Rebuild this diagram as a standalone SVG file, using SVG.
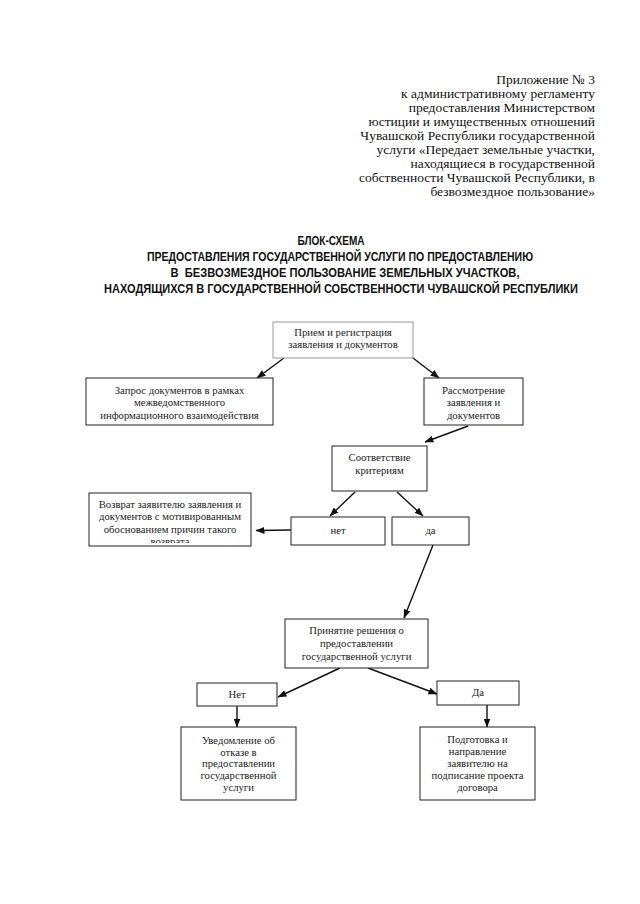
<svg xmlns="http://www.w3.org/2000/svg" width="640" height="904" viewBox="0 0 640 904">
<style>
.hdr{font-family:"Liberation Serif","Times New Roman",serif;font-size:13.5px;fill:#111;text-anchor:end}
.ttl{font-family:"Liberation Sans",Arial,sans-serif;font-size:12px;font-weight:bold;fill:#111;text-anchor:middle}
.box{fill:#fff;stroke:#222;stroke-width:1}
.box1{fill:#fff;stroke:#999;stroke-width:1}
.t{font-family:"Liberation Serif","Times New Roman",serif;font-size:10.7px;fill:#222;text-anchor:middle}
.c{stroke:#111;stroke-width:1.4;fill:none;marker-end:url(#ah)}
</style>
<defs>
<marker id="ah" markerUnits="userSpaceOnUse" markerWidth="9" markerHeight="7" refX="8.5" refY="3.5" orient="auto">
<path d="M0,0 L9,3.5 L0,7 z" fill="#111"/>
</marker>
<clipPath id="clipV"><rect x="89" y="493" width="162" height="50"/></clipPath>
</defs>
<rect width="640" height="904" fill="#fff"/>
<g id="header">
<text class="hdr" x="595" y="84">Приложение № 3</text>
<text class="hdr" x="595" y="98">к административному регламенту</text>
<text class="hdr" x="595" y="112">предоставления Министерством</text>
<text class="hdr" x="595" y="126">юстиции и имущественных отношений</text>
<text class="hdr" x="595" y="140">Чувашской Республики государственной</text>
<text class="hdr" x="595" y="154">услуги «Передает земельные участки,</text>
<text class="hdr" x="595" y="168">находящиеся в государственной</text>
<text class="hdr" x="595" y="182">собственности Чувашской Республики, в</text>
<text class="hdr" x="595" y="196">безвозмездное пользование»</text>
</g>
<g id="title">
<text class="ttl" x="331" y="244.5" textLength="67" lengthAdjust="spacingAndGlyphs">БЛОК-СХЕМА</text>
<text class="ttl" x="340" y="261" textLength="386" lengthAdjust="spacingAndGlyphs">ПРЕДОСТАВЛЕНИЯ ГОСУДАРСТВЕННОЙ УСЛУГИ ПО ПРЕДОСТАВЛЕНИЮ</text>
<text class="ttl" x="345" y="277" textLength="349" lengthAdjust="spacingAndGlyphs" xml:space="preserve">В  БЕЗВОЗМЕЗДНОЕ ПОЛЬЗОВАНИЕ ЗЕМЕЛЬНЫХ УЧАСТКОВ,</text>
<text class="ttl" x="341" y="292.5" textLength="474" lengthAdjust="spacingAndGlyphs">НАХОДЯЩИХСЯ В ГОСУДАРСТВЕННОЙ СОБСТВЕННОСТИ ЧУВАШСКОЙ РЕСПУБЛИКИ</text>
</g>
<g id="connectors">
<line class="c" x1="284" y1="358" x2="257" y2="378"/>
<line class="c" x1="413" y1="358" x2="439" y2="378"/>
<line class="c" x1="468" y1="426" x2="425" y2="442"/>
<line class="c" x1="355" y1="492" x2="330" y2="516"/>
<line class="c" x1="397" y1="492" x2="423" y2="516"/>
<line class="c" x1="291" y1="530" x2="256" y2="530.5"/>
<line class="c" x1="433" y1="545" x2="404" y2="618"/>
<line class="c" x1="340" y1="668" x2="278" y2="697"/>
<line class="c" x1="368" y1="668" x2="437" y2="694"/>
<line class="c" x1="237" y1="706" x2="237" y2="727"/>
<line class="c" x1="487" y1="705" x2="487" y2="727"/>
</g>
<g id="n1">
<rect class="box1" x="273" y="322" width="140" height="36"/>
<text class="t" x="343" y="335.5">Прием и регистрация</text>
<text class="t" x="343" y="348">заявления и документов</text>
</g>
<g id="n2">
<rect class="box" x="86" y="378" width="187" height="47"/>
<text class="t" x="179.5" y="393.5">Запрос документов в рамках</text>
<text class="t" x="179.5" y="406">межведомственного</text>
<text class="t" x="179.5" y="418.5">информационного взаимодействия</text>
</g>
<g id="n3">
<rect class="box" x="424" y="378" width="99" height="47"/>
<text class="t" x="473.5" y="393.5">Рассмотрение</text>
<text class="t" x="473.5" y="406">заявления и</text>
<text class="t" x="473.5" y="418.5">документов</text>
</g>
<g id="n4">
<rect class="box" x="332" y="446" width="95" height="45"/>
<text class="t" x="379.5" y="460.5">Соответствие</text>
<text class="t" x="379.5" y="474">критериям</text>
</g>
<g id="n5">
<rect class="box" x="89" y="493" width="162" height="53"/>
<g clip-path="url(#clipV)">
<text class="t" x="170" y="507.5">Возврат заявителю заявления и</text>
<text class="t" x="170" y="520">документов с мотивированным</text>
<text class="t" x="170" y="532.5">обоснованием причин такого</text>
<text class="t" x="170" y="545">возврата</text>
</g>
</g>
<g id="n6">
<rect class="box" x="291" y="517" width="94" height="28"/>
<text class="t" x="338" y="533.5">нет</text>
</g>
<g id="n7">
<rect class="box" x="392" y="517" width="77" height="28"/>
<text class="t" x="430.5" y="533.5">да</text>
</g>
<g id="n8">
<rect class="box" x="285" y="619" width="143" height="49"/>
<text class="t" x="356.5" y="633.5">Принятие решения о</text>
<text class="t" x="356.5" y="646.5">предоставлении</text>
<text class="t" x="356.5" y="660">государственной услуги</text>
</g>
<g id="n9">
<rect class="box" x="197" y="683" width="80" height="23"/>
<text class="t" x="237" y="697.5">Нет</text>
</g>
<g id="n10">
<rect class="box" x="437" y="681" width="82" height="24"/>
<text class="t" x="478" y="695.5">Да</text>
</g>
<g id="n11">
<rect class="box" x="181" y="727" width="115" height="73"/>
<text class="t" x="238.5" y="743.5">Уведомление об</text>
<text class="t" x="238.5" y="755.5">отказе в</text>
<text class="t" x="238.5" y="767">предоставлении</text>
<text class="t" x="238.5" y="778.5">государственной</text>
<text class="t" x="238.5" y="790.5">услуги</text>
</g>
<g id="n12">
<rect class="box" x="420" y="727" width="115" height="73"/>
<text class="t" x="477.5" y="743">Подготовка и</text>
<text class="t" x="477.5" y="755">направление</text>
<text class="t" x="477.5" y="767">заявителю на</text>
<text class="t" x="477.5" y="778.5">подписание проекта</text>
<text class="t" x="477.5" y="790.5">договора</text>
</g>
</svg>
